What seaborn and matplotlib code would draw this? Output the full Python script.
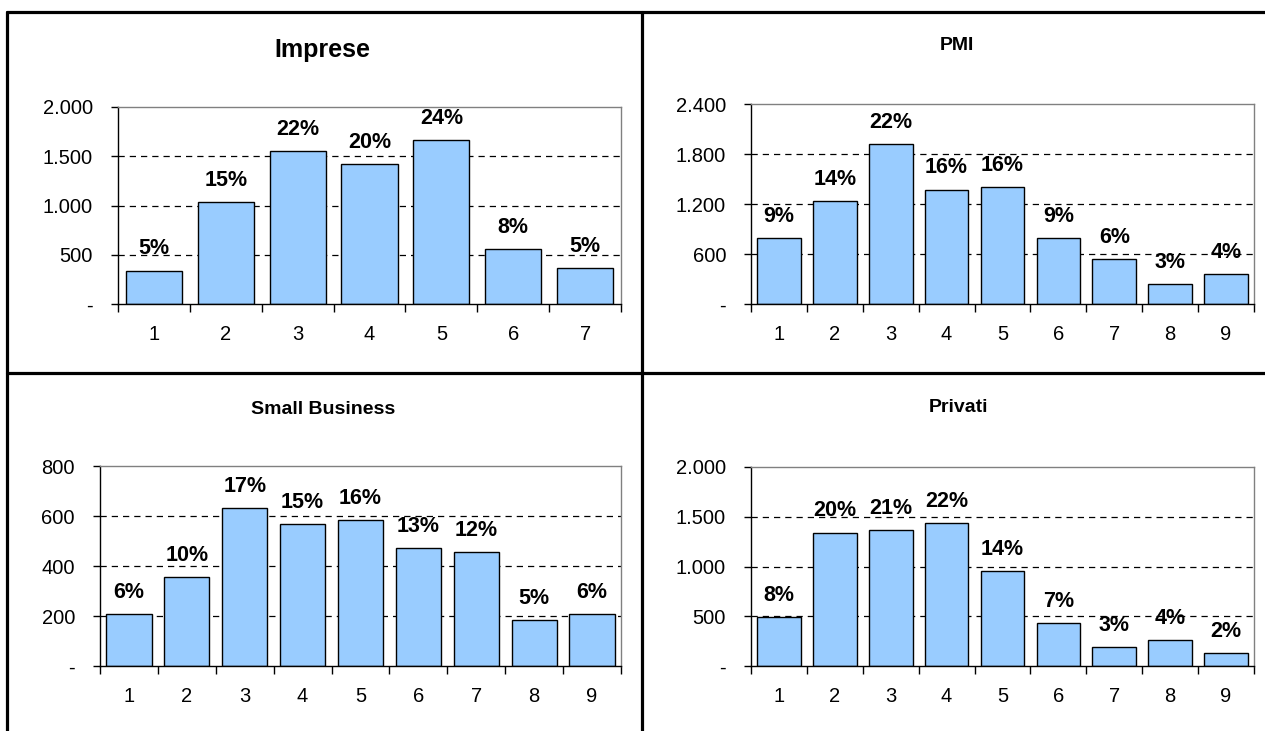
import numpy as np
import pandas as pd
import seaborn as sns
from matplotlib import pyplot as plt
from matplotlib.lines import Line2D
from matplotlib.ticker import FuncFormatter, FixedLocator

# values
imprese_cat = ["1", "2", "3", "4", "5", "6", "7"]
imprese_val = [340, 1037, 1553, 1421, 1666, 558, 367]
imprese_pct = ["5%", "15%", "22%", "20%", "24%", "8%", "5%"]

pmi_cat = ["1", "2", "3", "4", "5", "6", "7", "8", "9"]
pmi_val = [795, 1233, 1922, 1373, 1404, 795, 541, 239, 362]
pmi_pct = ["9%", "14%", "22%", "16%", "16%", "9%", "6%", "3%", "4%"]

small_cat = ["1", "2", "3", "4", "5", "6", "7", "8", "9"]
small_val = [208, 357, 633, 568, 583, 471, 455, 185, 208]
small_pct = ["6%", "10%", "17%", "15%", "16%", "13%", "12%", "5%", "6%"]

privati_cat = ["1", "2", "3", "4", "5", "6", "7", "8", "9"]
privati_val = [495, 1341, 1367, 1434, 953, 435, 194, 261, 127]
privati_pct = ["8%", "20%", "21%", "22%", "14%", "7%", "3%", "4%", "2%"]

sns.set_style("white")
plt.rcParams['font.family'] = ['Liberation Sans', 'DejaVu Sans']
plt.rcParams['text.color'] = 'black'
plt.rcParams['xtick.color'] = 'black'
plt.rcParams['ytick.color'] = 'black'
plt.rcParams['xtick.labelcolor'] = 'black'
plt.rcParams['ytick.labelcolor'] = 'black'

BAR_COLOR = "#99CCFF"
W, H = 1265, 731


def px_rect(left, right, top, bottom):
    return [left / W, 1 - bottom / H, (right - left) / W, (bottom - top) / H]


def thousands(v, pos):
    if v == 0:
        return "-"
    return f"{v:,.0f}".replace(",", ".")


def draw_panel(fig, rect, cats, vals, pcts, ymax, step):
    ax = fig.add_axes(rect)
    df = pd.DataFrame({"cat": cats, "val": vals})
    sns.barplot(data=df, x="cat", y="val", ax=ax, color=BAR_COLOR, saturation=1,
                edgecolor="black", linewidth=1, width=0.78)
    n = len(cats)
    ax.set_xlim(-0.5, n - 0.5)
    ax.set_ylim(0, ymax)
    ax.set_xlabel("")
    ax.set_ylabel("")

    yt = np.arange(0, ymax + step / 2, step)
    ax.set_yticks(yt)
    ax.yaxis.set_major_formatter(FuncFormatter(thousands))
    ax.tick_params(axis="y", direction="out", length=5, width=1, color="black",
                   pad=13, labelsize=14.5, left=True)
    ax.tick_params(axis="x", which="major", length=0, pad=15, labelsize=14.5, bottom=True)
    ax.xaxis.set_minor_locator(FixedLocator(np.arange(-0.5, n, 1.0)))
    ax.tick_params(axis="x", which="minor", direction="out", length=6, width=1,
                   color="black", bottom=True)

    for y in yt[1:-1]:
        ax.axhline(y, color="black", lw=0.9, ls=(0, (5, 4)), zorder=0)

    for side in ["left", "bottom"]:
        ax.spines[side].set_color("black")
        ax.spines[side].set_linewidth(1)
    for side in ["top", "right"]:
        ax.spines[side].set_color("#808080")
        ax.spines[side].set_linewidth(1)

    for i, (v, p) in enumerate(zip(vals, pcts)):
        ax.annotate(p, (i, v), xytext=(0, 8), textcoords="offset points",
                    ha="center", va="bottom", fontsize=15.5, fontweight="bold")
    return ax


fig = plt.figure(figsize=(12.65, 7.31), dpi=100)

draw_panel(fig, px_rect(118, 621, 107, 304), imprese_cat, imprese_val, imprese_pct, 2000, 500)
draw_panel(fig, px_rect(751, 1254, 104, 304), pmi_cat, pmi_val, pmi_pct, 2400, 600)
draw_panel(fig, px_rect(100, 621, 466, 666), small_cat, small_val, small_pct, 800, 200)
draw_panel(fig, px_rect(751, 1254, 467, 666), privati_cat, privati_val, privati_pct, 2000, 500)

fig.text(322 / W, 1 - 50 / H, "Imprese", ha="center", va="center", fontsize=18, fontweight="bold")
fig.text(957 / W, 1 - 45 / H, "PMI", ha="center", va="center", fontsize=14, fontweight="bold")
fig.text(323 / W, 1 - 409 / H, "Small Business", ha="center", va="center", fontsize=14, fontweight="bold")
fig.text(958 / W, 1 - 408 / H, "Privati", ha="center", va="center", fontsize=14, fontweight="bold")

# frame lines around the four panels
lw = 2.3
fig.add_artist(Line2D([7 / W, 1], [1 - 12 / H, 1 - 12 / H], color="black", lw=lw))
fig.add_artist(Line2D([7 / W, 7 / W], [1 - 12 / H, 0], color="black", lw=lw))
fig.add_artist(Line2D([641.5 / W, 641.5 / W], [1 - 12 / H, 0], color="black", lw=lw))
fig.add_artist(Line2D([7 / W, 1], [1 - 373 / H, 1 - 373 / H], color="black", lw=lw))

fig.savefig("out.png", dpi=100)
